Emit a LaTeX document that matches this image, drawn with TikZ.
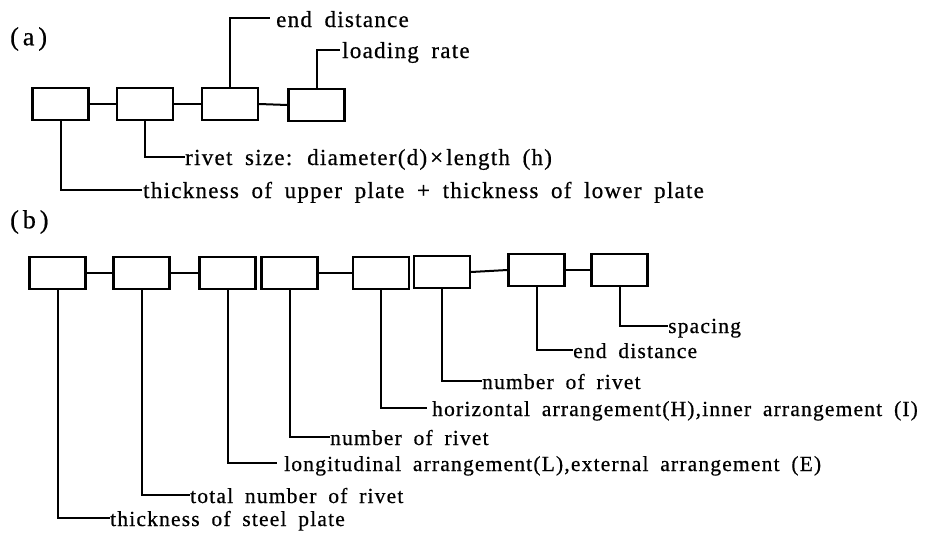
\documentclass[tikz,border=0pt]{standalone}
\usepackage{fontspec}
\setmainfont{Liberation Serif}[LetterSpace=5.5, WordSpace=1.8, FakeBold=0.6]
\newfontfamily\labfont{Liberation Serif}[FakeBold=0.6]
\tikzset{
  box/.style={draw, line width=2.2pt, minimum width=56pt, minimum height=32pt, inner sep=0pt},
  lnk/.style={line width=2pt},
  lbla/.style={anchor=base west, inner sep=0pt, font=\fontsize{23}{27}\selectfont},
  lblb/.style={anchor=base west, inner sep=0pt, font=\fontsize{21.5}{25}\selectfont},
  part/.style={anchor=west, inner sep=0pt, font=\labfont\fontsize{26}{30}\selectfont}
}
\begin{document}
\begin{tikzpicture}[x=1pt,y=-1pt]
\useasboundingbox (0,0) rectangle (950,533);
% ---------- (a)
\node[part] (pa) at (10,39) {(\hspace{4pt}a\hspace{4pt})};
\node[box] (a1) at (60.5,104) {};
\node[box] (a2) at (145,104) {};
\node[box] (a3) at (230,104) {};
\node[box] (a4) at (316.5,105) {};
\draw[lnk] (a1.east) -- (a2.west);
\draw[lnk] (a2.east) -- (a3.west);
\draw[lnk] (a3.east) -- (a4.west);
\coordinate (ea3) at (270,18);
\coordinate (ea4) at (340,50);
\coordinate (ea2) at (185,157);
\coordinate (ea1) at (142,190);
\draw[lnk] (a3.north) |- (ea3);
\draw[lnk] (a4.north) |- (ea4);
\draw[lnk] (a2.south) |- (ea2);
\draw[lnk] (a1.south) |- (ea1);
\node[lbla] (ta3) at ([shift={(6,9)}]ea3) {end distance};
\node[lbla] (ta4) at ([shift={(2,8)}]ea4) {loading rate};
\node[lbla] (ta2) at ([shift={(0,8)}]ea2) {rivet size: diameter(d)\hspace{3pt}×\hspace{3pt}length (h)};
\node[lbla] (ta1) at ([shift={(1,8)}]ea1) {thickness of upper plate + thickness of lower plate};
% ---------- (b)
\node[part] (pb) at (10,222) {(\hspace{4pt}b\hspace{4pt})};
\node[box] (b1) at (57.5,273) {};
\node[box] (b2) at (141.5,273) {};
\node[box] (b3) at (227.5,273) {};
\node[box] (b4) at (289.5,273) {};
\node[box] (b5) at (381,273) {};
\node[box] (b6) at (442,272) {};
\node[box] (b7) at (536.5,270) {};
\node[box] (b8) at (619.5,270) {};
\draw[lnk] (b1.east) -- (b2.west);
\draw[lnk] (b2.east) -- (b3.west);
\draw[lnk] (b4.east) -- (b5.west);
\draw[lnk] (b6.east) -- (b7.west);
\draw[lnk] (b7.east) -- (b8.west);
\coordinate (eb1) at (110,518);
\coordinate (eb2) at (190,495);
\coordinate (eb3) at (277,463);
\coordinate (eb4) at (330,437);
\coordinate (eb5) at (427,408);
\coordinate (eb6) at (482,381);
\coordinate (eb7) at (573,350);
\coordinate (eb8) at (668,326);
\draw[lnk] (b1.south) |- (eb1);
\draw[lnk] (b2.south) |- (eb2);
\draw[lnk] (b3.south) |- (eb3);
\draw[lnk] (b4.south) |- (eb4);
\draw[lnk] (b5.south) |- (eb5);
\draw[lnk] (b6.south) |- (eb6);
\draw[lnk] (b7.south) |- (eb7);
\draw[lnk] (b8.south) |- (eb8);
\node[lblb] (tb1) at ([shift={(0,8)}]eb1) {thickness of steel plate};
\node[lblb] (tb2) at ([shift={(0,8)}]eb2) {total number of rivet};
\node[lblb] (tb3) at ([shift={(7,8)}]eb3) {longitudinal arrangement(L),external arrangement (E)};
\node[lblb] (tb4) at ([shift={(0,8)}]eb4) {number of rivet};
\node[lblb] (tb5) at ([shift={(5,8)}]eb5) {horizontal arrangement(H),inner arrangement (I)};
\node[lblb] (tb6) at ([shift={(0,8)}]eb6) {number of rivet};
\node[lblb] (tb7) at ([shift={(0,8)}]eb7) {end distance};
\node[lblb] (tb8) at ([shift={(0,7)}]eb8) {spacing};
\end{tikzpicture}
\end{document}
